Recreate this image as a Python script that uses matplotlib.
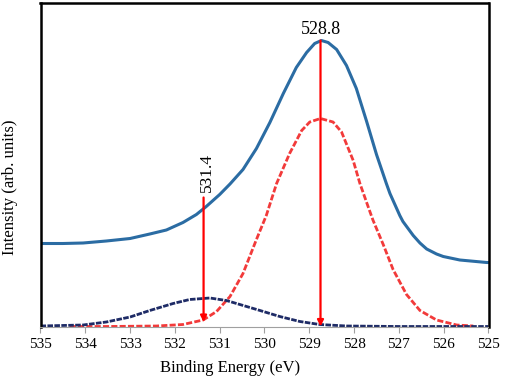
"""O 1s XPS spectrum with two fitted components (528.8 eV and 531.4 eV)."""

import matplotlib.pyplot as plt
import numpy as np

# Measured envelope (blue, solid)
ENVELOPE_EV = [535.0, 534.5, 534.05, 533.53, 533.0, 532.56, 532.19, 531.82, 531.52,
               531.30, 531.0, 530.77, 530.48, 530.18, 529.88, 529.58, 529.29, 529.06,
               528.88, 528.73, 528.58, 528.39, 528.17, 527.95, 527.72, 527.50, 527.28,
               527.20, 526.98, 526.91, 526.68, 526.53, 526.38, 526.16, 526.01, 525.64,
               525.04, 525.0]
ENVELOPE_I = [83.0, 83.0, 83.5, 85.5, 88.0, 92.5, 96.5, 104.0, 112.0,
              120.0, 132.0, 142.5, 157.0, 178.0, 204.0, 233.0, 259.0, 274.0,
              283.0, 286.0, 284.0, 277.0, 261.0, 238.0, 205.0, 172.0, 143.0,
              133.0, 111.0, 105.0, 91.0, 83.5, 77.5, 72.5, 70.0, 66.5,
              64.0, 64.0]

# Lattice oxygen component (red, dashed)
LATTICE_EV = [534.35, 533.5, 532.41, 531.82, 531.37, 531.07, 530.77, 530.48, 530.18,
              529.96, 529.73, 529.44, 529.17, 528.99, 528.75, 528.47, 528.28, 528.02,
              527.87, 527.72, 527.58, 527.35, 527.13, 526.83, 526.53, 526.16, 525.71,
              525.34]
LATTICE_I = [0.0, 0.0, 0.5, 2.0, 6.5, 15.0, 30.0, 53.0, 87.0,
             111.0, 143.0, 173.0, 196.0, 204.5, 208.0, 204.5, 194.5, 166.0,
             143.0, 124.0, 106.5, 82.0, 57.0, 32.0, 16.0, 6.5, 1.5,
             0.5]

# Surface oxygen component (navy, dotted)
SURFACE_EV = [535.0, 534.05, 533.53, 533.0, 532.56, 532.04, 531.67, 531.22, 530.85,
              530.40, 530.10, 529.66, 529.21, 528.77, 528.17, 527.0, 525.0]
SURFACE_I = [0.5, 1.5, 4.5, 9.5, 16.0, 23.0, 27.0, 28.5, 26.0,
             20.0, 16.0, 10.0, 5.0, 2.0, 0.5, 0.0, 0.0]

PEAK_LABELS = ["528.8", "531.4"]
PEAK_EV = [528.75, 531.36]
ARROW_TOP = [286.0, 129.0]
ARROW_BOTTOM = [0.0, 4.5]

X_TICKS = [535, 534, 533, 532, 531, 530, 529, 528, 527, 526, 525]


def main() -> None:
    plt.rcParams["font.family"] = ["Liberation Serif", "DejaVu Serif"]

    fig = plt.figure(figsize=(5.05, 3.77), dpi=100)
    ax = fig.add_axes([40.5 / 505, 1 - 326.5 / 377, 448 / 505, 324 / 377])

    ax.plot(ENVELOPE_EV, ENVELOPE_I, color="#2B6CA3", lw=2.2,
            solid_capstyle="round", solid_joinstyle="round")
    ax.plot(LATTICE_EV, LATTICE_I, color="#F23A3A", lw=2.0, ls=(0, (2.2, 0.8)))
    ax.plot(SURFACE_EV, SURFACE_I, color="#1E2B66", lw=2.0, ls=(0, (2.0, 0.5)))

    for ev, top, bottom in zip(PEAK_EV, ARROW_TOP, ARROW_BOTTOM):
        ax.annotate(
            "",
            xy=(ev, bottom),
            xytext=(ev, top),
            arrowprops=dict(arrowstyle="-|>", color="#FF0000", lw=1.6,
                            mutation_scale=9, shrinkA=0, shrinkB=0),
        )

    ax.text(PEAK_EV[0], ARROW_TOP[0] + 2, PEAK_LABELS[0], ha="center", va="bottom",
            fontsize=13)
    ax.text(PEAK_EV[1] - 0.08, ARROW_TOP[1] + 5, PEAK_LABELS[1], ha="center", va="bottom",
            rotation=90, fontsize=12.5)

    ax.set_xlim(535, 525)
    ax.set_ylim(0, 324)
    ax.set_xticks(X_TICKS)
    ax.set_xticklabels([str(t) for t in X_TICKS], fontsize=11)
    ax.set_yticks([])
    ax.tick_params(axis="x", direction="out", length=4, width=0.8, color="#A0A0A0", pad=4)

    for side in ("left", "top", "right"):
        ax.spines[side].set_linewidth(1.8)
        ax.spines[side].set_color("black")
    ax.spines["bottom"].set_color("#A0A0A0")
    ax.spines["bottom"].set_linewidth(0.8)

    fig.text(230 / 505, 1 - 368 / 377, "Binding Energy (eV)", ha="center", va="center",
             fontsize=12)
    fig.text(10 / 505, 1 - 187 / 377, "Intensity (arb. units)", ha="center", va="center",
             rotation=90, fontsize=12)

    fig.savefig("out.png", dpi=100)
    plt.close(fig)


if __name__ == "__main__":
    main()
